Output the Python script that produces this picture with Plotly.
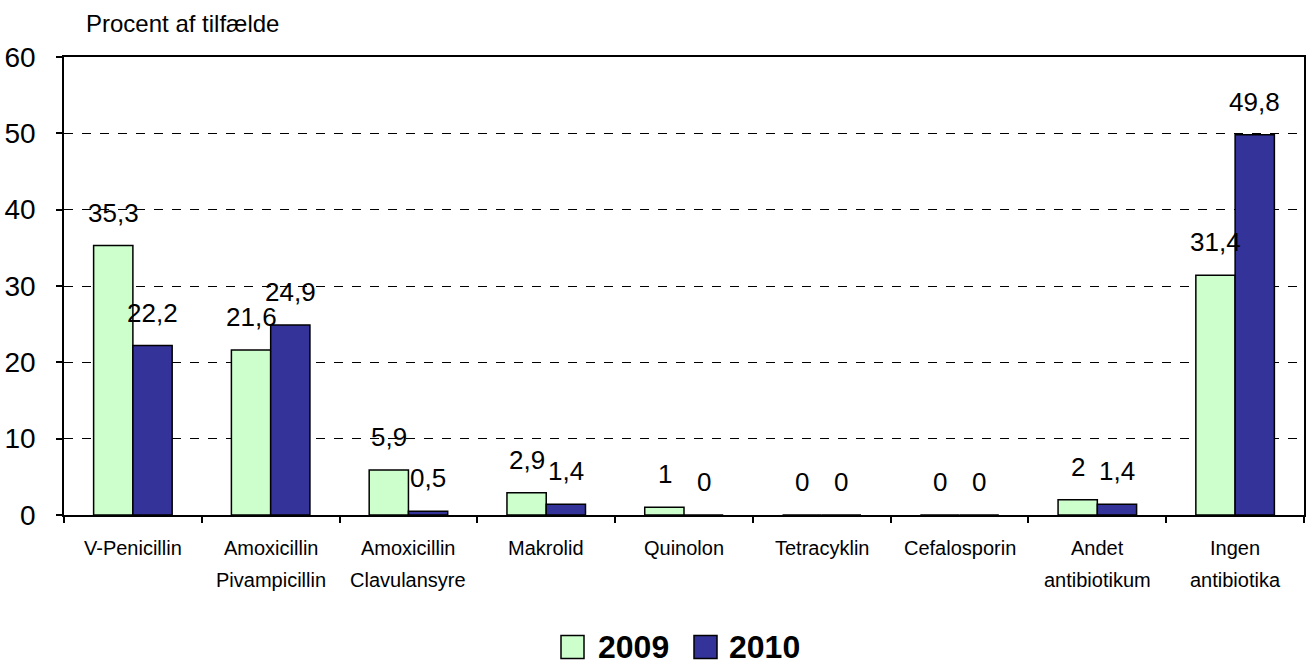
import plotly.graph_objects as go

categories = ["V-Penicillin", "Amoxicillin<br>Pivampicillin", "Amoxicillin<br>Clavulansyre",
              "Makrolid", "Quinolon", "Tetracyklin", "Cefalosporin",
              "Andet<br>antibiotikum", "Ingen<br>antibiotika"]
series_names = ["2009", "2010"]
v2009 = [35.3, 21.6, 5.9, 2.9, 1, 0, 0, 2, 31.4]
v2010 = [22.2, 24.9, 0.5, 1.4, 0, 0, 0, 1.4, 49.8]
colors = ["#CCFFCC", "#333399"]
y_ticks = [0, 10, 20, 30, 40, 50, 60]
y_title = "Procent af tilfælde"

FONT = "Liberation Sans, Arial, sans-serif"


def fmt(v):
    return f"{v:g}".replace(".", ",")


fig = go.Figure()
for name, vals, col in zip(series_names, [v2009, v2010], colors):
    fig.add_trace(go.Bar(
        x=categories, y=vals, name=name,
        marker=dict(color=col, line=dict(color="black", width=1.5)),
        showlegend=False, hoverinfo="x+y",
    ))

annotations = []
# value labels
for shift, vals in zip([-19.5, 19.5], [v2009, v2010]):
    for c, v in zip(categories, vals):
        annotations.append(dict(
            x=c, y=v, xref="x", yref="y", text=fmt(v), showarrow=False,
            xanchor="center", yanchor="bottom", xshift=shift, yshift=16,
            font=dict(family=FONT, size=26, color="black"),
        ))

# category labels (one annotation per line for Excel-like line spacing)
for c in categories:
    for k, line in enumerate(c.split("<br>")):
        annotations.append(dict(
            x=c, y=0, xref="x", yref="paper", text=line, showarrow=False,
            xanchor="center", yanchor="middle", yshift=-33 - 32 * k,
            font=dict(family=FONT, size=20, color="black"),
        ))

annotations.append(dict(
    x=0, y=1, xref="paper", yref="paper", text=y_title, showarrow=False,
    xanchor="left", yanchor="bottom", xshift=20, yshift=18,
    font=dict(family=FONT, size=24, color="black"),
))

# manual legend (large swatches as in the reference)
shapes = []
leg_sw_x = [497, 630]
leg_tx_x = [532, 663]
for name, col, sx, tx in zip(series_names, colors, leg_sw_x, leg_tx_x):
    shapes.append(dict(type="rect", xref="paper", yref="paper",
                       xsizemode="pixel", xanchor=0, x0=sx, x1=sx + 23,
                       ysizemode="pixel", yanchor=0, y0=-143.5, y1=-120.5,
                       fillcolor=col, line=dict(color="black", width=1.5)))
    annotations.append(dict(
        x=0, y=0, xref="paper", yref="paper", text=f"<b>{name}</b>",
        showarrow=False, xanchor="left", yanchor="middle",
        xshift=tx, yshift=-132,
        font=dict(family=FONT, size=32, color="black"),
    ))

fig.update_layout(
    width=1309, height=666,
    margin=dict(l=64, r=5, t=57, b=151),
    paper_bgcolor="white", plot_bgcolor="white",
    barmode="group", bargap=0.43, bargroupgap=0,
    annotations=annotations, shapes=shapes,
    font=dict(family=FONT, color="black"),
)
fig.update_xaxes(
    type="category", tickson="boundaries", ticks="outside", ticklen=6,
    tickcolor="black", tickwidth=1.5, showticklabels=False,
    showline=True, linecolor="black", linewidth=1.5, mirror=True,
    showgrid=False, automargin=False,
)
fig.update_yaxes(
    range=[0, 60], tickvals=y_ticks, ticks="outside", ticklen=6,
    tickcolor="black", tickwidth=1.5,
    showline=True, linecolor="black", linewidth=1.5, mirror=True,
    showgrid=True, gridcolor="black", gridwidth=1, griddash="dash",
    zeroline=False, tickfont=dict(family=FONT, size=28, color="black"),
    ticklabelstandoff=15, automargin=False,
)

fig.write_html(
    "out.html",
    config={"displayModeBar": False},
    post_script="document.body.style.margin='0';document.body.style.overflow='hidden';",
)
